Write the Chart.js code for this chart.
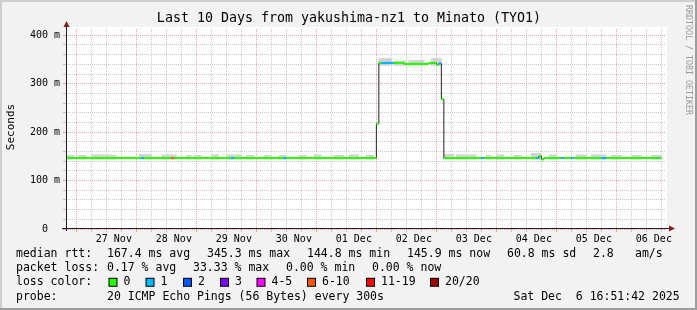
<!DOCTYPE html>
<html>
<head>
<meta charset="utf-8">
<script src="https://cdn.jsdelivr.net/npm/chart.js@4.4.1/dist/chart.umd.min.js"></script>
<style>
  html, body { margin: 0; padding: 0; background: #f2f2f2; }
  canvas { display: block; }
</style>
</head>
<body>
<canvas id="graph" width="697" height="310"></canvas>
<script>
// time is in hours counted from 27 Nov 00:00, one RRA bin = 1 hour
const xMin = -7.1383;  // Wed Nov 26 16:51:42
const xMax = 232.8617; // Sat Dec  6 16:51:42
const yMax = 413;

const dayLabels = ['27 Nov', '28 Nov', '29 Nov', '30 Nov', '01 Dec', '02 Dec', '03 Dec', '04 Dec', '05 Dec', '06 Dec'];
const yLabelValues = [0, 100, 200, 300, 400];
const yLabelTexts = ['0  ', '100 m', '200 m', '300 m', '400 m'];

// median rtt (ms) as runs of hourly bins, first..last bin inclusive
const runStart  = [-7, 23, 24, 35, 36, 59, 60, 80, 81, 117, 118, 119, 124, 128, 138, 141, 142, 143, 144, 159, 160, 181, 182, 183, 184, 191, 192, 195, 196, 207, 209];
const runEnd    = [22, 23, 34, 35, 58, 59, 79, 80, 116, 117, 118, 123, 127, 137, 140, 141, 142, 143, 158, 159, 180, 181, 182, 183, 190, 191, 194, 195, 206, 208, 230];
const runMedian = [146.5, 146.5, 146.5, 146.5, 146.5, 146.5, 146.5, 146.5, 146.5, 217.5, 343, 343, 343, 341, 343, 339.5, 342, 268, 146.5, 146.5, 146.5, 146.5, 150.5, 143.5, 146.5, 146.5, 146.5, 146.5, 146.5, 146.5, 146.5];
const runLoss   = [0, 1, 0, 5, 0, 1, 0, 1, 0, 0, 0, 1, 0, 0, 0, 0, 1, 0, 0, 1, 0, 1, 0, 0, 0, 1, 0, 1, 0, 1, 0];

// smoke (ping spread) runs
const smokeStart = [-7, -2, 3, 11, 22, 31, 41, 44, 51, 57, 65, 72, 78, 86, 92, 100, 106, 113, 118, 124, 130, 139, 144, 149, 153, 161, 165, 172, 179, 186, 197, 203, 211, 219, 227];
const smokeEnd   = [-5, 0, 10, 12, 26, 36, 42, 46, 53, 62, 67, 74, 80, 88, 94, 103, 109, 115, 122, 128, 135, 142, 147, 152, 156, 162, 167, 174, 182, 188, 200, 208, 214, 222, 230];
const smokeLow   = [144, 144, 144, 144, 144, 144, 144, 144, 144, 144, 144, 144, 144, 144, 144, 144, 144, 144, 338, 338, 338, 338, 144, 144, 144, 144, 144, 144, 144, 144, 144, 144, 144, 144, 144];
const smokeTop   = [152, 152, 153, 152, 154, 153, 152, 152, 153, 153, 152, 152, 152, 152, 153, 152, 153, 152, 352, 347, 348, 352, 154, 153, 153, 152, 153, 152, 156, 153, 153, 153, 152, 152, 152];

const lossLabels = ['0', '1', '2', '3', '4-5', '6-10', '11-19', '20/20'];
const lossColors = ['#26ff00', '#00b8ff', '#0059ff', '#7e00ff', '#ff00ff', '#ff5500', '#ff0000', '#a10000'];

const rttStats  = ['167.4 ms avg', '345.3 ms max', '144.8 ms min', '145.9 ms now', '60.8 ms sd', '2.8', 'am/s'];
const lossStats = ['0.17 % avg', '33.33 % max', '0.00 % min', '0.00 % now'];
const probeText = '20 ICMP Echo Pings (56 Bytes) every 300s';
const stampText = 'Sat Dec  6 16:51:42 2025';
const titleText = 'Last 10 Days from yakushima-nz1 to Minato (TYO1)';

const MONO = "'DejaVu Sans Mono', 'Liberation Mono', monospace";
const gridColor = 'rgba(143,143,143,0.45)';
const mgridColor = 'rgba(222,79,79,0.5)';

// black median line, stepped over the runs
const medianLine = runStart.map((s, i) => ({ x: s, y: runMedian[i] }));
medianLine.push({ x: runEnd[runEnd.length - 1] + 1, y: runMedian[runMedian.length - 1] });

// coloured median pieces, broken between runs
const medianColour = [];
runStart.forEach((s, i) => {
  medianColour.push({ x: s, y: runMedian[i] });
  medianColour.push({ x: runEnd[i] + 1, y: runMedian[i] });
  medianColour.push({ x: runEnd[i] + 1, y: null });
});

// smoke as hourly floating bars
const smokeBars = [];
smokeStart.forEach((s, i) => {
  for (let h = s; h <= smokeEnd[i]; h++) {
    smokeBars.push({ x: h + 0.5, y: [smokeLow[i], smokeTop[i]] });
  }
});

const xGrid = [];
for (let h = -6; h <= 228; h += 6) xGrid.push(h);
const yGrid = [];
for (let v = 0; v <= 400; v += 20) yGrid.push(v);

const rrdDecor = {
  id: 'rrdDecor',
  beforeDraw(chart) {
    const ctx = chart.ctx;
    const a = chart.chartArea;
    const w = chart.width, h = chart.height;
    ctx.save();
    ctx.fillStyle = '#f2f2f2';
    ctx.fillRect(0, 0, w, h);
    ctx.fillStyle = '#cfcfcf';
    ctx.fillRect(0, 0, w, 2);
    ctx.fillRect(0, 0, 2, h);
    ctx.fillStyle = '#9e9e9e';
    ctx.fillRect(0, h - 2, w, 2);
    ctx.fillRect(w - 2, 0, 2, h);
    ctx.fillStyle = '#ffffff';
    ctx.fillRect(a.left, a.top - 2, a.width + 1, a.height + 2);
    ctx.restore();
  },
  afterDraw(chart) {
    const ctx = chart.ctx;
    const a = chart.chartArea;
    ctx.save();

    // axes and arrows
    ctx.lineWidth = 1;
    ctx.strokeStyle = '#1f1f1f';
    ctx.beginPath();
    ctx.moveTo(a.left - 4, a.bottom - 0.5);
    ctx.lineTo(a.right + 4, a.bottom - 0.5);
    ctx.moveTo(a.left + 0.5, a.bottom + 2);
    ctx.lineTo(a.left + 0.5, a.top - 4);
    ctx.stroke();
    ctx.fillStyle = '#801f1f';
    ctx.beginPath();
    ctx.moveTo(a.left + 0.5, a.top - 8);
    ctx.lineTo(a.left - 2.5, a.top - 2);
    ctx.lineTo(a.left + 3.5, a.top - 2);
    ctx.closePath();
    ctx.fill();
    ctx.beginPath();
    ctx.moveTo(a.right + 9, a.bottom - 0.5);
    ctx.lineTo(a.right + 3, a.bottom - 3.5);
    ctx.lineTo(a.right + 3, a.bottom + 2.5);
    ctx.closePath();
    ctx.fill();

    // title, axis title, watermark
    ctx.fillStyle = '#000';
    ctx.textBaseline = 'middle';
    ctx.textAlign = 'center';
    ctx.font = '13.3px ' + MONO;
    ctx.fillText(titleText, 349, 19);

    ctx.save();
    ctx.translate(11, 127);
    ctx.rotate(-Math.PI / 2);
    ctx.font = '11px ' + MONO;
    ctx.fillText('Seconds', 0, 0);
    ctx.restore();

    ctx.save();
    ctx.translate(688, 5);
    ctx.rotate(Math.PI / 2);
    ctx.textAlign = 'left';
    ctx.fillStyle = '#9a9a9a';
    ctx.font = '8.3px ' + MONO;
    ctx.fillText('RRDTOOL / TOBI OETIKER', 0, 0);
    ctx.restore();

    // legend
    ctx.textAlign = 'left';
    ctx.font = '11.5px ' + MONO;
    const rows = [254, 268.3, 282.3, 296.7];
    ctx.fillText('median rtt:', 16, rows[0]);
    [107, 207, 307, 407, 507, 593, 635].forEach((x, i) => ctx.fillText(rttStats[i], x, rows[0]));
    ctx.fillText('packet loss:', 16, rows[1]);
    [107, 193, 286, 372].forEach((x, i) => ctx.fillText(lossStats[i], x, rows[1]));
    ctx.fillText('loss color:', 16, rows[2]);
    const swX = [108.5, 145.5, 183, 220, 256.5, 307, 366, 430];
    swX.forEach((x, i) => {
      ctx.fillStyle = '#000';
      ctx.fillRect(x, rows[2] - 4.5, 9, 9);
      ctx.fillStyle = lossColors[i];
      ctx.fillRect(x + 1, rows[2] - 3.5, 7, 7);
      ctx.fillStyle = '#000';
      ctx.fillText(lossLabels[i], x + 15, rows[2]);
    });
    ctx.fillText('probe:', 16, rows[3]);
    ctx.fillText(probeText, 107, rows[3]);
    ctx.fillText(stampText, 513.5, rows[3]);

    ctx.restore();
  }
};

const gridBy = (isMajor) => (isMajor ? mgridColor : gridColor);

new Chart(document.getElementById('graph'), {
  type: 'line',
  data: {
    datasets: [
      {
        label: 'median',
        data: medianColour,
        borderColor: lossColors[0],
        borderWidth: 2,
        borderCapStyle: 'butt',
        pointRadius: 0,
        spanGaps: false,
        order: 0,
        segment: {
          borderColor: (c) => lossColors[runLoss[Math.floor(c.p0DataIndex / 3)]]
        }
      },
      {
        label: 'median line',
        data: medianLine,
        borderColor: '#202020',
        borderWidth: 1,
        stepped: 'before',
        pointRadius: 0,
        order: 1
      },
      {
        type: 'bar',
        label: 'smoke',
        data: smokeBars,
        backgroundColor: '#d2d2d2',
        borderWidth: 0,
        barPercentage: 1,
        categoryPercentage: 1,
        grouped: false,
        order: 2
      }
    ]
  },
  options: {
    responsive: false,
    devicePixelRatio: 1,
    animation: false,
    events: [],
    layout: { padding: { top: 29, right: 31, left: 0, bottom: 0 } },
    plugins: { legend: { display: false }, tooltip: { enabled: false }, title: { display: false } },
    scales: {
      x: {
        type: 'linear',
        min: xMin,
        max: xMax,
        offset: false,
        afterFit: (s) => { s.height = 81; },
        afterBuildTicks: (s) => { s.ticks = xGrid.map((v) => ({ value: v })); },
        grid: {
          color: (c) => gridBy(c.tick && c.tick.value % 24 === 0),
          tickColor: (c) => gridBy(c.tick && c.tick.value % 24 === 0),
          tickLength: 3,
          drawTicks: true
        },
        border: { display: false, dash: [1, 1] },
        ticks: {
          autoSkip: false,
          maxRotation: 0,
          minRotation: 0,
          padding: 1,
          color: '#000',
          font: { family: MONO, size: 10 },
          callback: (v) => {
            const r = ((v % 24) + 24) % 24;
            return r === 12 ? (dayLabels[(v - 12) / 24] || '') : '';
          }
        }
      },
      y: {
        type: 'linear',
        min: 0,
        max: yMax,
        afterFit: (s) => { s.width = 66; },
        afterBuildTicks: (s) => { s.ticks = yGrid.map((v) => ({ value: v })); },
        grid: {
          color: (c) => gridBy(c.tick && c.tick.value % 100 === 0),
          tickColor: (c) => gridBy(c.tick && c.tick.value % 100 === 0),
          tickLength: 3,
          drawTicks: true
        },
        border: { display: false, dash: [1, 1] },
        ticks: {
          autoSkip: false,
          padding: 3,
          color: '#000',
          font: { family: MONO, size: 10 },
          callback: (v) => {
            const i = yLabelValues.indexOf(v);
            return i >= 0 ? yLabelTexts[i] : '';
          }
        }
      }
    }
  },
  plugins: [rrdDecor]
});
</script>
</body>
</html>
